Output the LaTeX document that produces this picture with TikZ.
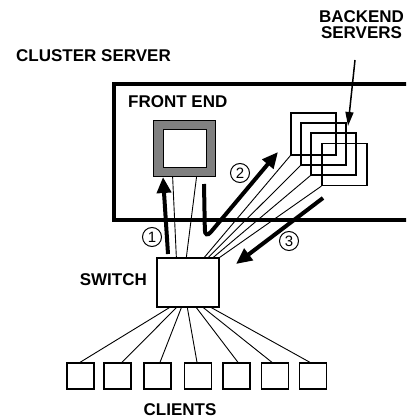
\documentclass[tikz,border=0pt]{standalone}
\usepackage{fontspec}
\setmainfont{Liberation Sans}
\usetikzlibrary{arrows.meta,calc}
\tikzset{
  lbl/.style={font=\fontsize{17}{15}\selectfont\bfseries, inner sep=0pt},
  box/.style={draw, line width=1.3pt, inner sep=0pt, rectangle},
  wire/.style={line width=0.9pt},
  flow/.style={line width=4pt, -{Triangle[length=16pt,width=14pt]}},
  pointer/.style={line width=1.5pt, -{Triangle[length=14pt,width=8pt]}},
  stepnum/.style={circle, draw, line width=1pt, minimum size=19pt, inner sep=0pt,
    font=\fontsize{15}{15}\selectfont},
}
\begin{document}
\begin{tikzpicture}[x=1pt, y=-1pt]
\useasboundingbox (0,0) rectangle (406,419);
\clip (0,0) rectangle (406,419);

% cluster enclosure (runs off the right edge)
\draw[line width=4pt] (430,84) -- (114,84) -- (114,220) -- (430,220);

% labels
\node[lbl, anchor=base west] (lcluster) at (16,62) {CLUSTER SERVER};
\node[lbl, anchor=base west] (lfront) at (128,108) {FRONT END};
\node[lbl, anchor=base] (lback1) at (361.5,22.5) {BACKEND};
\node[lbl, anchor=base] (lback2) at (361.5,38.5) {SERVERS};
\node[lbl, anchor=base east] (lswitch) at (147,285) {SWITCH};
\node[lbl, anchor=base] (lclients) at (180,415.5) {CLIENTS};

% front-end machine: grey frame
\node[box, line width=0.8pt, fill=black!50, minimum width=62pt, minimum height=56pt] (fe) at (184,148) {};
\node[box, line width=0.8pt, fill=white, minimum width=43pt, minimum height=38pt] (fein) at (184.5,148) {};

% backend servers
\foreach \i/\cx/\cy in {1/313.5/134, 2/323.5/144, 3/333.5/154, 4/344.5/164.5}
  \node[box, minimum width=45pt, minimum height=42pt] (be\i) at (\cx,\cy) {};

% switch
\node[box, minimum width=62pt, minimum height=49pt] (sw) at (188,282.5) {};

% clients
\foreach \i/\cx in {1/80.5, 2/117.5, 3/157.5, 4/198, 5/236.5, 6/275, 7/313}
  \node[box, minimum width=27pt, minimum height=26pt] (c\i) at (\cx,376) {};

% switch to front end
\draw[wire] ([xshift=20pt]fe.south west) -- ([xshift=20pt]sw.north west);
\draw[wire] ([xshift=44pt]fe.south west) -- ([xshift=30pt]sw.north west);

% switch to backends
\draw[wire] (be1.south west) -- ([xshift=48pt]sw.north west);
\draw[wire] (be2.south west) -- ([xshift=52pt]sw.north west);
\draw[wire] (be3.south west) -- ([xshift=57pt]sw.north west);
\draw[wire] (be4.south west) -- ([xshift=62pt,yshift=-1pt]sw.north west);

% switch to clients
\foreach \i/\sx/\ex in {1/13/-0.5, 2/20/4.5, 3/25/2.5, 4/31/-1, 5/40/1.5, 6/47/-3, 7/55/-3}
  \draw[wire] ([xshift=\sx pt]sw.south west) -- ([xshift=\ex pt]c\i.north);

% request flow
\coordinate (a1s) at (168,254);
\coordinate (a1e) at (163,177);
\draw[flow] (a1s) -- (a1e);
\node[stepnum] (n1) at (152,237) {1};

\coordinate (a2s) at (204,184);
\coordinate (a2c) at (205,239);
\coordinate (a2e) at (278,152);
\draw[flow, rounded corners=9pt] (a2s) -- (a2c) -- (a2e);
\node[stepnum] (n2) at (240,173) {2};

\coordinate (a3s) at (323,198);
\coordinate (a3e) at (236,264);
\draw[flow] (a3s) -- (a3e);
\node[stepnum] (n3) at (289,241) {3};

% backend label pointer
\coordinate (bp) at (355,60);
\draw[pointer] (bp) -- (348,126);
\end{tikzpicture}
\end{document}
